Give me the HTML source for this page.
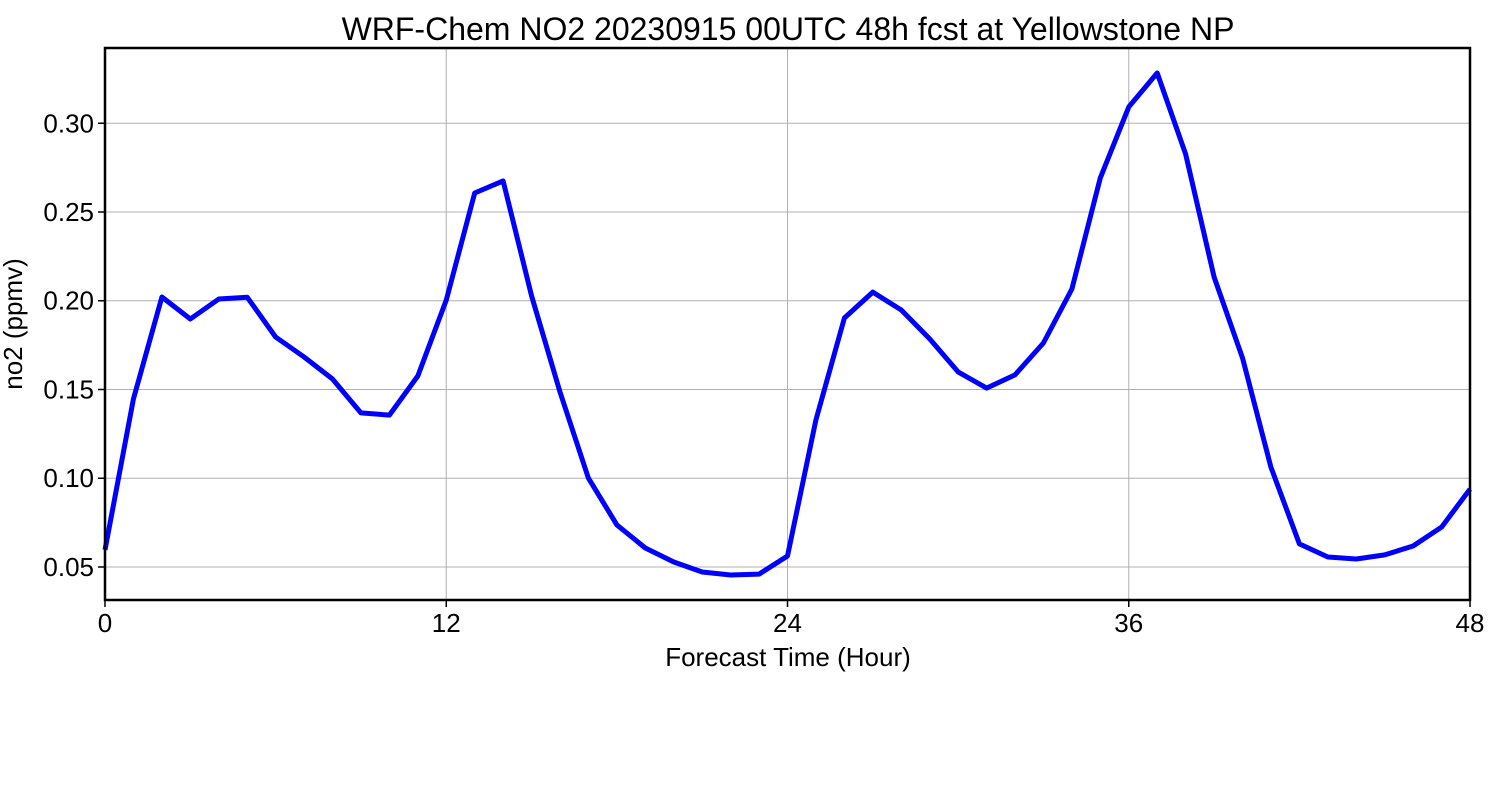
<!DOCTYPE html>
<html><head><meta charset="utf-8"><style>
html,body{margin:0;padding:0;background:#fff;}
svg{display:block;font-family:"Liberation Sans","DejaVu Sans",sans-serif;}
</style></head><body>
<svg id="chart" width="1500" height="800" viewBox="0 0 1500 800" xmlns="http://www.w3.org/2000/svg">
<rect width="1500" height="800" fill="#fff"/>
<text x="788" y="40" font-size="32" text-anchor="middle" fill="#000">WRF-Chem NO2  20230915 00UTC 48h fcst at Yellowstone NP</text>
<g id="grid"></g>
<g id="ticks"></g>
<polyline id="series" fill="none" stroke="#0000ff" stroke-width="5" stroke-linejoin="round" stroke-linecap="butt"/>
<rect x="105" y="48" width="1365" height="552" fill="none" stroke="#000" stroke-width="2.5"/>
<text x="788" y="666" font-size="26" text-anchor="middle">Forecast Time (Hour)</text>
<text transform="translate(22,324) rotate(-90)" font-size="26" text-anchor="middle">no2  (ppmv)</text>
</svg>
<script>
const hours = [0,1,2,3,4,5,6,7,8,9,10,11,12,13,14,15,16,17,18,19,20,21,22,23,24,25,26,27,28,29,30,31,32,33,34,35,36,37,38,39,40,41,42,43,44,45,46,47,48];
const no2 = [0.0596,0.1446,0.2021,0.1897,0.201,0.202,0.1796,0.1683,0.1559,0.1368,0.1356,0.1576,0.2004,0.2607,0.2675,0.2027,0.1486,0.1001,0.0737,0.0607,0.0528,0.0472,0.0455,0.046,0.0562,0.1328,0.1903,0.2049,0.1948,0.1785,0.1599,0.1508,0.1582,0.1762,0.2066,0.2692,0.3092,0.3283,0.2827,0.2134,0.1678,0.1063,0.063,0.0556,0.0545,0.0568,0.0618,0.0725,0.0939];
const xTicks = [0,12,24,36,48];
const yTicks = [0.05,0.10,0.15,0.20,0.25,0.30];
const yTickLabels = ["0.05","0.10","0.15","0.20","0.25","0.30"];

const X0=105,X1=1470,Y0=600,Y1=48;
const xMin=0,xMax=48,yMin=0.0314,yMax=0.3424;
function xs(v){return X0+(v-xMin)/(xMax-xMin)*(X1-X0);}
function ys(v){return Y0-(v-yMin)/(yMax-yMin)*(Y0-Y1);}
const NS="http://www.w3.org/2000/svg";
const grid=document.getElementById('grid'), ticks=document.getElementById('ticks');
function mk(tag,attrs,parent){const e=document.createElementNS(NS,tag);for(const k in attrs)e.setAttribute(k,attrs[k]);parent.appendChild(e);return e;}
xTicks.forEach(t=>{
  const x=xs(t);
  const g=mk('line',{x1:x,x2:x,y1:Y1,y2:Y0,stroke:'#b0b0b0','stroke-width':1},grid);
  
  
  const tk=mk('line',{x1:x,x2:x,y1:Y0,y2:Y0+7,stroke:'#000','stroke-width':1.5},ticks);
  
  
  const tx=mk('text',{x:x,y:632,'font-size':26,'text-anchor':'middle'},ticks);
  
  
  tx.textContent=t;
});
yTicks.forEach((t,i)=>{
  const y=ys(t);
  const g=mk('line',{x1:X0,x2:X1,y1:y,y2:y,stroke:'#b0b0b0','stroke-width':1},grid);
  
  
  const tk=mk('line',{x1:X0-7,x2:X0,y1:y,y2:y,stroke:'#000','stroke-width':1.5},ticks);
  
  
  const tx=mk('text',{x:94,y:y+9,'font-size':26,'text-anchor':'end'},ticks);
  
  
  tx.textContent=yTickLabels[i];
});
document.getElementById('series').setAttribute('points',hours.map((h,i)=>xs(h).toFixed(1)+','+ys(no2[i]).toFixed(1)).join(' '));
</script>
</body></html>
